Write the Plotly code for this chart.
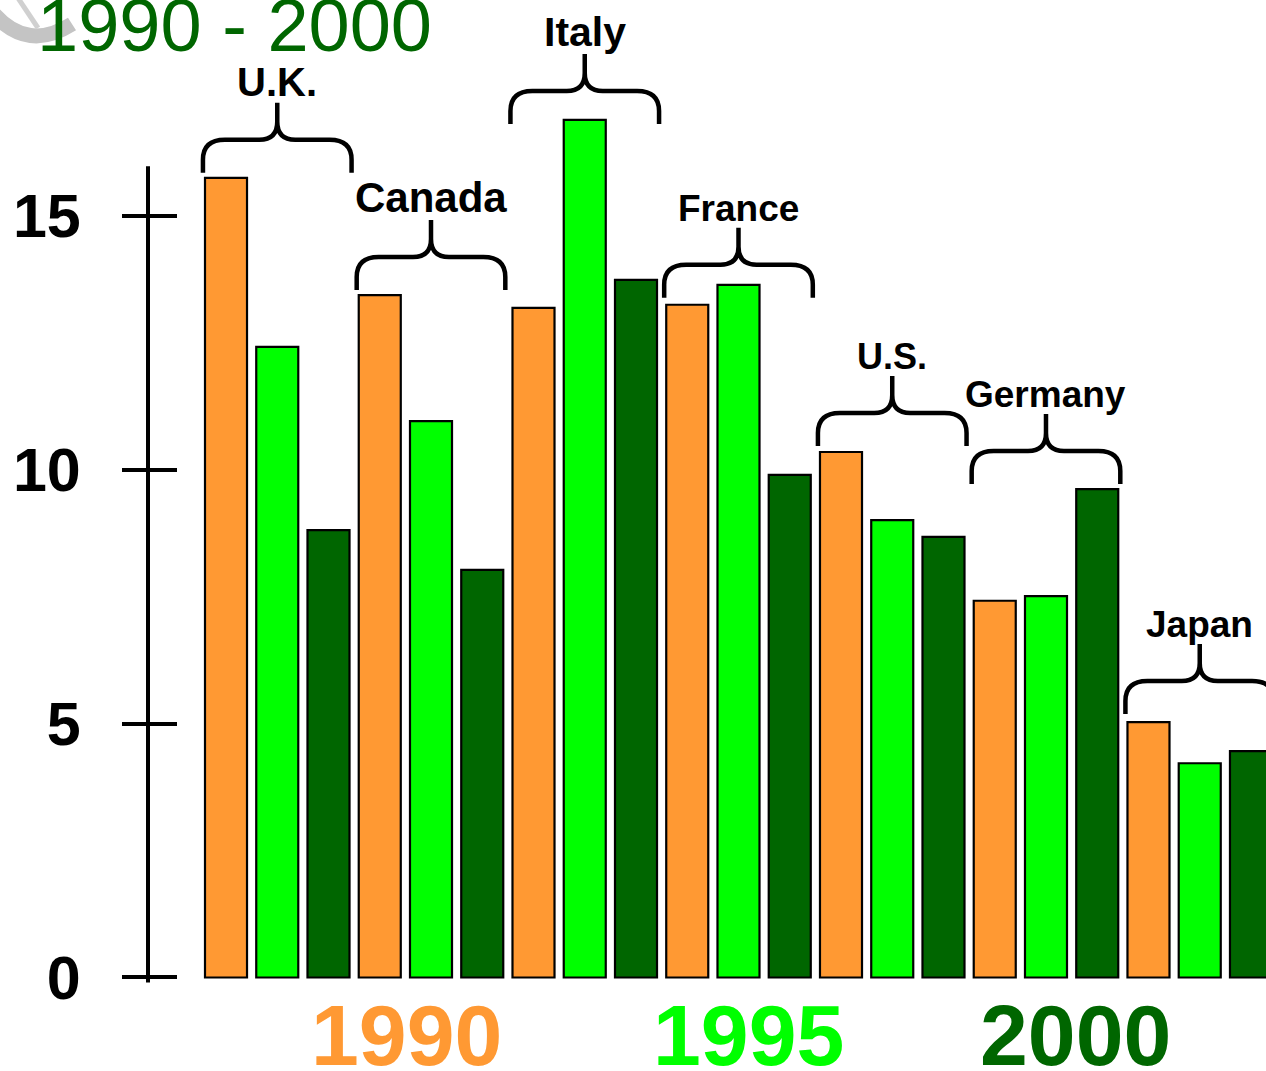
import plotly.graph_objects as go

# ---- data -------------------------------------------------------------
countries = ["U.K.", "Canada", "Italy", "France", "U.S.", "Germany", "Japan"]
years = ["1990", "1995", "2000"]
values_1990 = [15.75, 13.44, 13.19, 13.25, 10.35, 7.42, 5.03]
values_1995 = [12.42, 10.96, 16.89, 13.64, 9.01, 7.51, 4.22]
values_2000 = [8.81, 8.03, 13.74, 9.90, 8.68, 9.62, 4.46]
brace_base = [15.85, 13.54, 16.81, 13.39, 10.47, 9.72, 5.19]
y_ticks = [0, 5, 10, 15]

# ---- styles -----------------------------------------------------------
W, H = 1266, 1071
FONT = "Liberation Sans, Arial, Helvetica, sans-serif"
year_colors = ["#FF9933", "#00FF00", "#006600"]
label_sizes = {"U.K.": 40, "Canada": 42, "Italy": 41, "France": 37,
               "U.S.": 36, "Germany": 37, "Japan": 37}
X_RANGE = [-4.41, 20.293]
Y_RANGE = [-1.842, 19.253]
AXIS_X = 148 / W  # paper position of the vertical axis

fig = go.Figure()

series = [values_1990, values_1995, values_2000]
for k, (yr, vals) in enumerate(zip(years, series)):
    fig.add_trace(go.Bar(
        x=[3 * g + k for g in range(len(countries))],
        y=vals,
        name=yr,
        width=0.82,
        marker=dict(color=year_colors[k], line=dict(color="black", width=2.2)),
        showlegend=False,
        hoverinfo="skip",
    ))

# curly braces with country names above each group
px_per_unit_y = H / (Y_RANGE[1] - Y_RANGE[0])
px_per_unit_x = W / (X_RANGE[1] - X_RANGE[0])
dy_h = 33 / px_per_unit_y
dy_t = 70 / px_per_unit_y
half_w = 1.45
rx = 22 / px_per_unit_x
ry = 20 / px_per_unit_y
rx2 = 18 / px_per_unit_x
ry2 = 18 / px_per_unit_y

for g, (name, base) in enumerate(zip(countries, brace_base)):
    xc = 3 * g + 1
    xl, xr = xc - half_w, xc + half_w
    yb, yh, yt = base, base + dy_h, base + dy_t
    path = (
        f"M {xl},{yb} L {xl},{yh - ry} Q {xl},{yh} {xl + rx},{yh} "
        f"L {xc - rx2},{yh} Q {xc},{yh} {xc},{yh + ry2} L {xc},{yt} "
        f"M {xr},{yb} L {xr},{yh - ry} Q {xr},{yh} {xr - rx},{yh} "
        f"L {xc + rx2},{yh} Q {xc},{yh} {xc},{yh + ry2}"
    )
    fig.add_shape(type="path", path=path, xref="x", yref="y",
                  line=dict(color="black", width=4.5))
    fig.add_annotation(x=xc, y=yt, xref="x", yref="y", text=f"<b>{name}</b>",
                       showarrow=False, yanchor="bottom", yshift=-3,
                       font=dict(family=FONT, size=label_sizes[name], color="black"))

# vertical axis line
fig.add_shape(type="line", xref="paper", yref="y", x0=AXIS_X, x1=AXIS_X,
              y0=-0.1, y1=15.98, line=dict(color="black", width=4))


# grey swoosh ornament in the top-left corner
def pp(x, y):
    return f"{x / W},{1 - y / H}"


fig.add_shape(type="path", xref="paper", yref="paper",
              path=f"M {pp(-6, 14)} Q {pp(28, 52)} {pp(72, 24)}",
              line=dict(color="#C4C4C4", width=15))
fig.add_shape(type="path", xref="paper", yref="paper",
              path=f"M {pp(18, -2)} L {pp(38, 28)}",
              line=dict(color="#D0D0D0", width=5))

# title
fig.add_annotation(x=35 / W, y=1, xref="paper", yref="paper", text="1990 - 2000",
                   showarrow=False, xanchor="left", yanchor="top", yshift=18,
                   font=dict(family=FONT, size=74, color="#006600"))

# year key below the bars
for yr, col, cx in zip(years, year_colors, [406, 748, 1075]):
    fig.add_annotation(x=cx / W, y=0, xref="paper", yref="paper", text=f"<b>{yr}</b>",
                       showarrow=False, xanchor="center", yanchor="bottom", yshift=-14,
                       font=dict(family=FONT, size=86, color=col))

fig.update_layout(
    width=W, height=H,
    margin=dict(l=0, r=0, t=0, b=0),
    paper_bgcolor="white", plot_bgcolor="white",
    barmode="overlay",
    xaxis=dict(range=X_RANGE, visible=False),
    yaxis=dict(range=Y_RANGE, tickvals=y_ticks, ticktext=[str(t) for t in y_ticks],
               ticks="outside", ticklen=26, tickwidth=4, tickcolor="black",
               showline=False, showgrid=False, zeroline=False,
               anchor="free", position=AXIS_X, ticklabelstandoff=29,
               tickfont=dict(family=FONT, size=61, color="black", weight="bold")),
    yaxis2=dict(range=Y_RANGE, tickvals=y_ticks, overlaying="y",
                ticks="inside", ticklen=28, tickwidth=4, tickcolor="black",
                showticklabels=False, showline=False, showgrid=False,
                zeroline=False, anchor="free", position=AXIS_X, side="left"),
)

# invisible helper so the inner tick marks are rendered
fig.add_trace(go.Scatter(x=[0], y=[0], yaxis="y2", mode="markers",
                         marker=dict(opacity=0), showlegend=False, hoverinfo="skip"))

fig.write_html("out.html")
